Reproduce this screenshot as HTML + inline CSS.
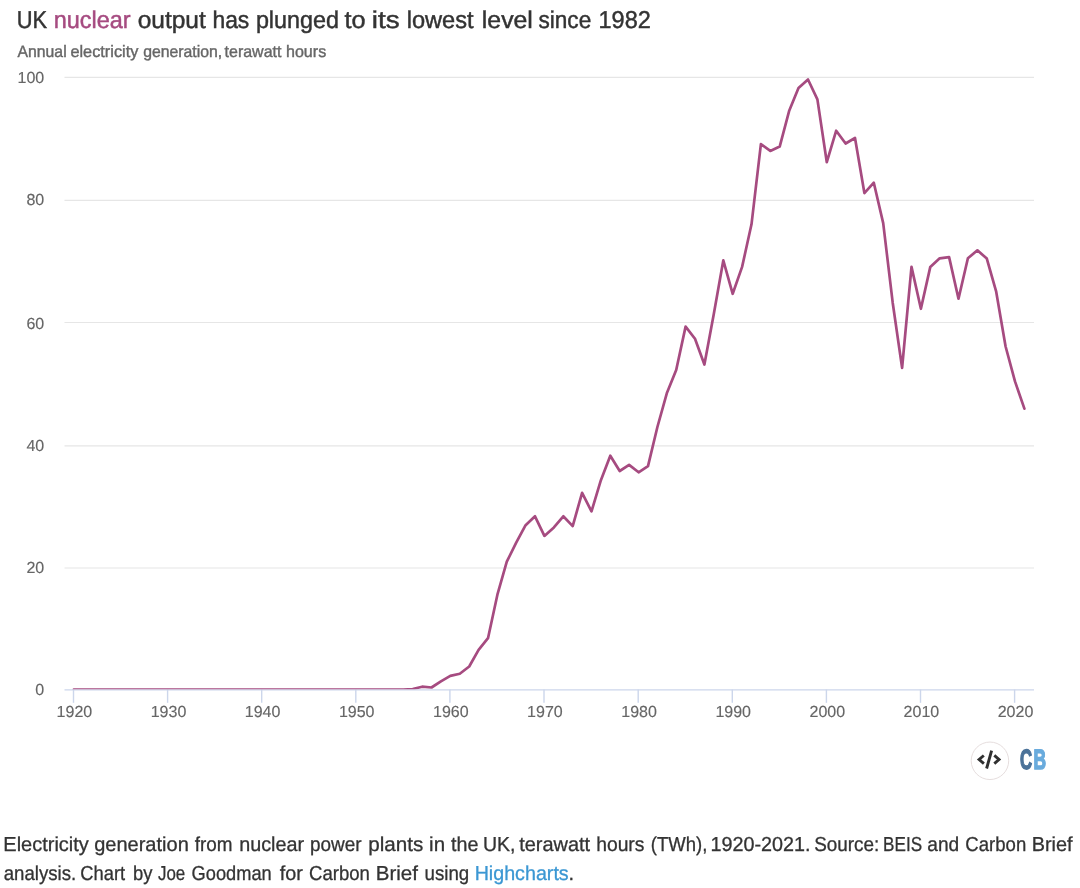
<!DOCTYPE html>
<html lang="en"><head><meta charset="utf-8"><title>UK nuclear output</title>
<style>
html,body{margin:0;padding:0;background:#fff;}
body{width:1080px;height:888px;overflow:hidden;font-family:"Liberation Sans",sans-serif;}
svg{display:block;font-family:"Liberation Sans",sans-serif;text-rendering:geometricPrecision;}
.ax text{font-size:16px;fill:#666;stroke:#666;stroke-width:0.15px;}
</style></head><body>
<svg width="1080" height="888" viewBox="0 0 1080 888">
<rect width="1080" height="888" fill="#fff"/>
<text y="28.4" font-size="24.3px" fill="#333" stroke="#333" stroke-width="0.45"><tspan x="16.82" textLength="30.33" lengthAdjust="spacingAndGlyphs">UK</tspan> <tspan x="53.64" textLength="76.95" lengthAdjust="spacingAndGlyphs" fill="#a64b80" stroke="#a64b80">nuclear</tspan> <tspan x="137.67" textLength="68.11" lengthAdjust="spacingAndGlyphs">output</tspan> <tspan x="212.41" textLength="36.91" lengthAdjust="spacingAndGlyphs">has</tspan> <tspan x="255.89" textLength="83.11" lengthAdjust="spacingAndGlyphs">plunged</tspan> <tspan x="344.62" textLength="21.04" lengthAdjust="spacingAndGlyphs">to</tspan> <tspan x="371.74" textLength="27.87" lengthAdjust="spacingAndGlyphs">its</tspan> <tspan x="406.71" textLength="66.86" lengthAdjust="spacingAndGlyphs">lowest</tspan> <tspan x="481.83" textLength="51.03" lengthAdjust="spacingAndGlyphs">level</tspan> <tspan x="538.47" textLength="52.73" lengthAdjust="spacingAndGlyphs">since</tspan> <tspan x="598.51" textLength="52.27" lengthAdjust="spacingAndGlyphs">1982</tspan></text>
<text y="57.4" font-size="16.5px" fill="#666" stroke="#666" stroke-width="0.4"><tspan x="17.57" textLength="49.09" lengthAdjust="spacingAndGlyphs">Annual</tspan> <tspan x="70.41" textLength="67.92" lengthAdjust="spacingAndGlyphs">electricity</tspan> <tspan x="143.14" textLength="79.08" lengthAdjust="spacingAndGlyphs">generation,</tspan> <tspan x="224.56" textLength="56.86" lengthAdjust="spacingAndGlyphs">terawatt</tspan> <tspan x="285.99" textLength="40.19" lengthAdjust="spacingAndGlyphs">hours</tspan></text>
<g>
<line x1="64.5" x2="1034" y1="568.0" y2="568.0" stroke="#e6e6e6" stroke-width="1.2"/>
<line x1="64.5" x2="1034" y1="445.9" y2="445.9" stroke="#e6e6e6" stroke-width="1.2"/>
<line x1="64.5" x2="1034" y1="322.5" y2="322.5" stroke="#e6e6e6" stroke-width="1.2"/>
<line x1="64.5" x2="1034" y1="200.3" y2="200.3" stroke="#e6e6e6" stroke-width="1.2"/>
<line x1="64.5" x2="1034" y1="77.3" y2="77.3" stroke="#e6e6e6" stroke-width="1.2"/>
</g>
<line x1="64.5" x2="1034" y1="689.85" y2="689.85" stroke="#ccd6eb" stroke-width="1.3"/>
<g>
<line x1="73.5" x2="73.5" y1="689.5" y2="702.8" stroke="#ccd6eb" stroke-width="1.4"/>
<line x1="167.6" x2="167.6" y1="689.5" y2="702.8" stroke="#ccd6eb" stroke-width="1.4"/>
<line x1="261.7" x2="261.7" y1="689.5" y2="702.8" stroke="#ccd6eb" stroke-width="1.4"/>
<line x1="355.8" x2="355.8" y1="689.5" y2="702.8" stroke="#ccd6eb" stroke-width="1.4"/>
<line x1="449.9" x2="449.9" y1="689.5" y2="702.8" stroke="#ccd6eb" stroke-width="1.4"/>
<line x1="544.0" x2="544.0" y1="689.5" y2="702.8" stroke="#ccd6eb" stroke-width="1.4"/>
<line x1="638.2" x2="638.2" y1="689.5" y2="702.8" stroke="#ccd6eb" stroke-width="1.4"/>
<line x1="732.3" x2="732.3" y1="689.5" y2="702.8" stroke="#ccd6eb" stroke-width="1.4"/>
<line x1="826.4" x2="826.4" y1="689.5" y2="702.8" stroke="#ccd6eb" stroke-width="1.4"/>
<line x1="920.5" x2="920.5" y1="689.5" y2="702.8" stroke="#ccd6eb" stroke-width="1.4"/>
<line x1="1014.6" x2="1014.6" y1="689.5" y2="702.8" stroke="#ccd6eb" stroke-width="1.4"/>
</g>
<g class="ax">
<text x="44.2" y="695.0" text-anchor="end">0</text>
<text x="44.2" y="573.0" text-anchor="end">20</text>
<text x="44.2" y="451.0" text-anchor="end">40</text>
<text x="44.2" y="329.0" text-anchor="end">60</text>
<text x="44.2" y="205.0" text-anchor="end">80</text>
<text x="44.2" y="83.0" text-anchor="end">100</text>
<text x="74.4" y="717" text-anchor="middle">1920</text>
<text x="168.5" y="717" text-anchor="middle">1930</text>
<text x="262.6" y="717" text-anchor="middle">1940</text>
<text x="356.7" y="717" text-anchor="middle">1950</text>
<text x="450.8" y="717" text-anchor="middle">1960</text>
<text x="544.9" y="717" text-anchor="middle">1970</text>
<text x="639.1" y="717" text-anchor="middle">1980</text>
<text x="733.2" y="717" text-anchor="middle">1990</text>
<text x="827.3" y="717" text-anchor="middle">2000</text>
<text x="921.4" y="717" text-anchor="middle">2010</text>
<text x="1015.5" y="717" text-anchor="middle">2020</text>
</g>
<clipPath id="plot"><rect x="64.5" y="60" width="969.5" height="629.2"/></clipPath>
<path d="M73.9 689.6 L83.3 689.6 L92.7 689.6 L102.1 689.6 L111.5 689.6 L121.0 689.6 L130.4 689.6 L139.8 689.6 L149.2 689.6 L158.6 689.6 L168.0 689.6 L177.4 689.6 L186.8 689.6 L196.2 689.6 L205.7 689.6 L215.1 689.6 L224.5 689.6 L233.9 689.6 L243.3 689.6 L252.7 689.6 L262.1 689.6 L271.5 689.6 L280.9 689.6 L290.4 689.6 L299.8 689.6 L309.2 689.6 L318.6 689.6 L328.0 689.6 L337.4 689.6 L346.8 689.6 L356.2 689.6 L365.6 689.6 L375.1 689.6 L384.5 689.6 L393.9 689.6 L403.3 689.6 L412.7 689.0 L422.1 686.7 L431.5 687.5 L440.9 681.3 L450.3 675.9 L459.8 673.7 L469.2 666.5 L478.6 649.8 L488.0 638.2 L497.4 594.7 L506.8 561.7 L516.2 542.7 L525.6 525.2 L535.0 516.3 L544.4 535.9 L553.9 527.4 L563.3 516.3 L572.7 526.1 L582.1 492.8 L591.5 511.4 L600.9 480.2 L610.3 455.7 L619.7 471.0 L629.1 464.9 L638.6 472.3 L648.0 466.1 L657.4 427.0 L666.8 393.3 L676.2 370.0 L685.6 326.6 L695.0 338.8 L704.4 364.5 L713.8 314.0 L723.3 260.4 L732.7 293.8 L742.1 266.9 L751.5 224.3 L760.9 144.1 L770.3 150.9 L779.7 146.6 L789.1 111.1 L798.5 88.1 L808.0 79.5 L817.4 99.4 L826.8 162.2 L836.2 130.7 L845.6 143.5 L855.0 138.0 L864.4 193.1 L873.8 182.7 L883.2 223.1 L892.7 302.7 L902.1 367.9 L911.5 266.9 L920.9 308.8 L930.3 266.9 L939.7 258.3 L949.1 257.1 L958.5 298.7 L967.9 258.3 L977.4 250.3 L986.8 258.6 L996.2 291.7 L1005.6 346.5 L1015.0 381.4 L1024.4 408.6" clip-path="url(#plot)" fill="none" stroke="#a64b80" stroke-width="2.7" stroke-linejoin="round" stroke-linecap="round"/>
<g>
<circle cx="989.95" cy="760.8" r="18.75" fill="#fff" stroke="#e6dede" stroke-width="1"/>
<path d="M983.8 755.5 L979.1 759.5 L983.9 763.6 M994.3 755.4 L999 759.5 L994.3 763.6 M991.6 750.6 L986.6 768.5" fill="none" stroke="#303030" stroke-width="2.9" stroke-linecap="butt" stroke-linejoin="miter"/>
<text y="769.25" font-size="27.9px" font-weight="bold" stroke-width="1.5" stroke-linejoin="miter"><tspan x="1019.97" textLength="12.04" lengthAdjust="spacingAndGlyphs" fill="#4b7299" stroke="#4b7299">C</tspan><tspan x="1033.48" textLength="12.61" lengthAdjust="spacingAndGlyphs" fill="#69abdd" stroke="#69abdd">B</tspan></text>
</g>
<g font-size="20.2px" fill="#333" stroke="#333" stroke-width="0.3">
<text y="851.45"><tspan x="3.36" textLength="85.43" lengthAdjust="spacingAndGlyphs">Electricity</tspan> <tspan x="94.16" textLength="94.64" lengthAdjust="spacingAndGlyphs">generation</tspan> <tspan x="194.73" textLength="37.76" lengthAdjust="spacingAndGlyphs">from</tspan> <tspan x="239.19" textLength="64.89" lengthAdjust="spacingAndGlyphs">nuclear</tspan> <tspan x="310.03" textLength="51.53" lengthAdjust="spacingAndGlyphs">power</tspan> <tspan x="368.17" textLength="55.08" lengthAdjust="spacingAndGlyphs">plants</tspan> <tspan x="429.13" textLength="15.95" lengthAdjust="spacingAndGlyphs">in</tspan> <tspan x="450.95" textLength="27.43" lengthAdjust="spacingAndGlyphs">the</tspan> <tspan x="482.99" textLength="32.51" lengthAdjust="spacingAndGlyphs">UK,</tspan> <tspan x="519.20" textLength="70.95" lengthAdjust="spacingAndGlyphs">terawatt</tspan> <tspan x="596.16" textLength="48.29" lengthAdjust="spacingAndGlyphs">hours</tspan> <tspan x="650.85" textLength="56.56" lengthAdjust="spacingAndGlyphs">(TWh),</tspan> <tspan x="710.49" textLength="100.06" lengthAdjust="spacingAndGlyphs">1920-2021.</tspan> <tspan x="814.14" textLength="65.08" lengthAdjust="spacingAndGlyphs">Source:</tspan> <tspan x="883.10" textLength="38.94" lengthAdjust="spacingAndGlyphs">BEIS</tspan> <tspan x="927.29" textLength="31.95" lengthAdjust="spacingAndGlyphs">and</tspan> <tspan x="965.36" textLength="60.85" lengthAdjust="spacingAndGlyphs">Carbon</tspan> <tspan x="1031.67" textLength="40.80" lengthAdjust="spacingAndGlyphs">Brief</tspan></text>
<text y="880.05"><tspan x="3.71" textLength="72.49" lengthAdjust="spacingAndGlyphs">analysis.</tspan> <tspan x="80.32" textLength="44.82" lengthAdjust="spacingAndGlyphs">Chart</tspan> <tspan x="133.06" textLength="19.47" lengthAdjust="spacingAndGlyphs">by</tspan> <tspan x="157.99" textLength="27.27" lengthAdjust="spacingAndGlyphs">Joe</tspan> <tspan x="191.58" textLength="80.10" lengthAdjust="spacingAndGlyphs">Goodman</tspan> <tspan x="279.72" textLength="23.11" lengthAdjust="spacingAndGlyphs">for</tspan> <tspan x="309.06" textLength="60.90" lengthAdjust="spacingAndGlyphs">Carbon</tspan> <tspan x="375.82" textLength="42.15" lengthAdjust="spacingAndGlyphs">Brief</tspan> <tspan x="424.54" textLength="44.67" lengthAdjust="spacingAndGlyphs">using</tspan> <tspan x="474.63" textLength="94.08" lengthAdjust="spacingAndGlyphs" fill="#3b97d3" stroke="#3b97d3">Highcharts</tspan><tspan x="568.58" textLength="5.55" lengthAdjust="spacingAndGlyphs">.</tspan></text>
</g>
</svg>
</body></html>
